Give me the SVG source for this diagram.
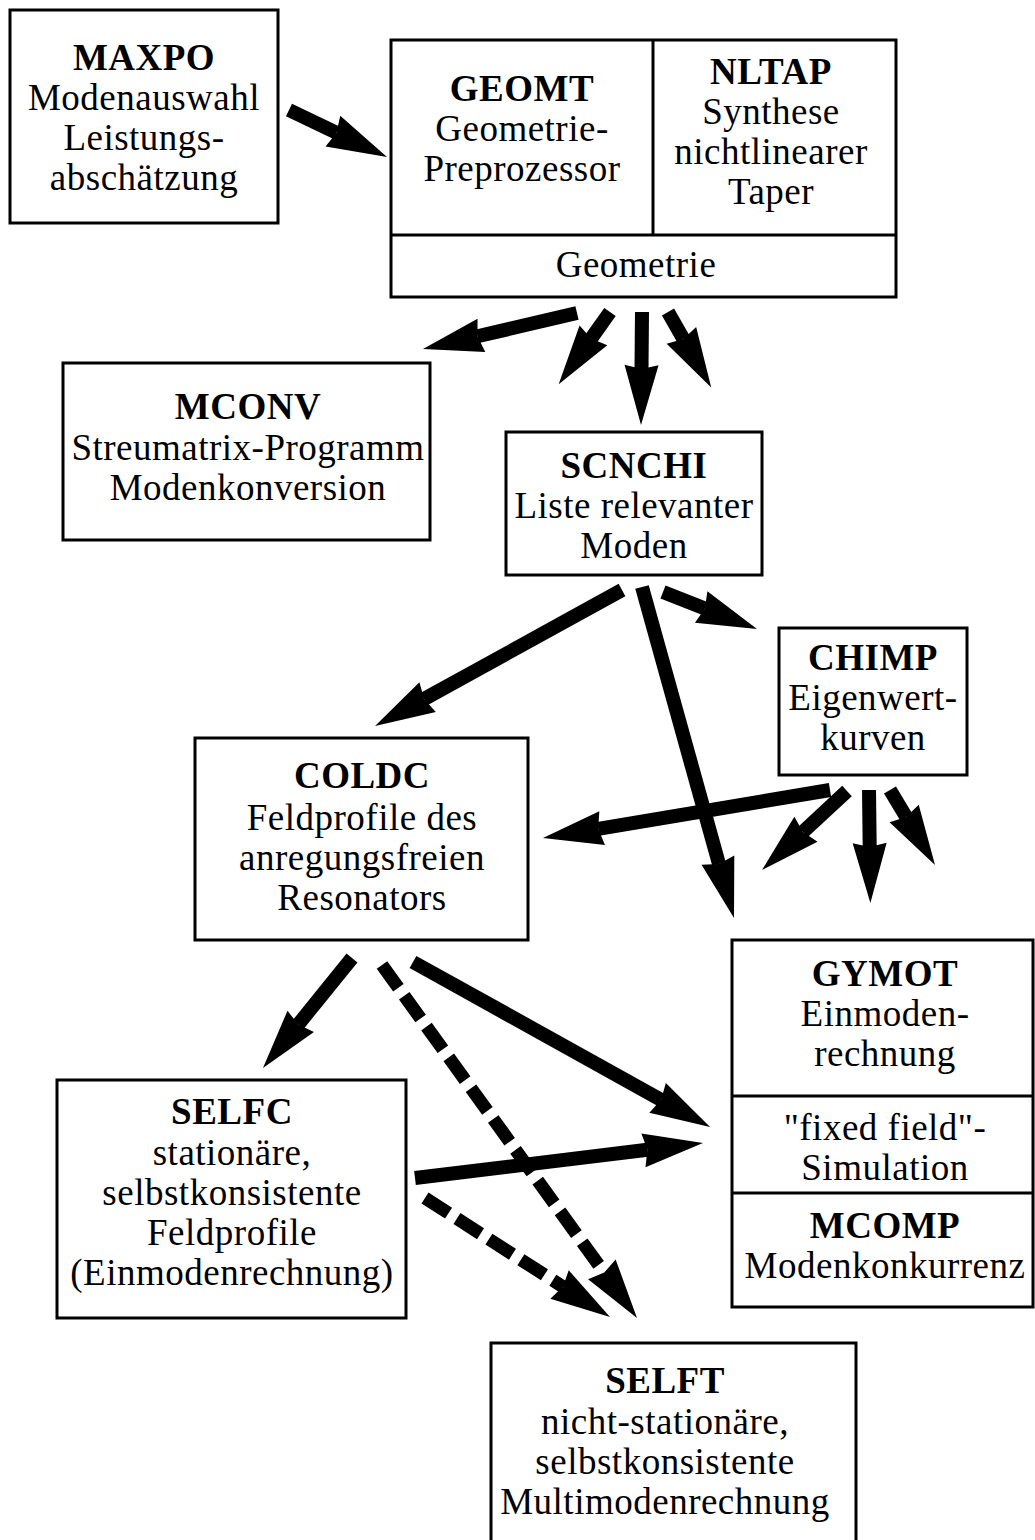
<svg xmlns="http://www.w3.org/2000/svg" width="1035" height="1540" viewBox="0 0 1035 1540">
<style>
.box{fill:#fff;stroke:#000;stroke-width:3}
.div{stroke:#000;stroke-width:3}
text{font-family:"Liberation Serif","Times New Roman",serif;font-size:37px;letter-spacing:0.5px;text-anchor:middle;fill:#000}
.t{font-weight:bold}
.a{stroke:#000;stroke-width:14;fill:none;marker-end:url(#ah)}
.d{stroke:#000;stroke-width:13;fill:none;stroke-dasharray:28 10;marker-end:url(#ah)}
</style>
<defs>
<marker id="ah" markerUnits="userSpaceOnUse" viewBox="-62 -20 64 40" markerWidth="64" markerHeight="40" refX="-56" refY="0" orient="auto">
<path d="M0,0 L-60,-17 L-56,0 L-60,17 Z" fill="#000"/>
</marker>
</defs>
<rect width="1035" height="1540" fill="#fff"/>
<g id="connectors">
<line class="a" x1="289" y1="110" x2="336.5" y2="132.8"/>
<line class="a" x1="577" y1="313" x2="477.5" y2="336.3"/>
<line class="a" x1="610" y1="312" x2="591.1" y2="338.6"/>
<line class="a" x1="642" y1="312" x2="641.5" y2="369"/>
<line class="a" x1="668" y1="312" x2="683.4" y2="338.9"/>
<line class="a" x1="622" y1="590" x2="424.1" y2="699"/>
<line class="a" x1="642" y1="587" x2="719" y2="864"/>
<line class="a" x1="663" y1="592" x2="704.9" y2="608.5"/>
<line class="a" x1="830" y1="790" x2="598.2" y2="828.8"/>
<line class="a" x1="847" y1="791" x2="803" y2="831.9"/>
<line class="a" x1="869" y1="790" x2="869.7" y2="847"/>
<line class="a" x1="890" y1="790" x2="906.2" y2="817"/>
<line class="a" x1="352" y1="958" x2="298.2" y2="1024.5"/>
<line class="a" x1="413" y1="962" x2="661.1" y2="1099.8"/>
<line class="d" x1="382" y1="965" x2="604.2" y2="1272.6"/>
<line class="a" x1="415" y1="1178" x2="647.4" y2="1149.8"/>
<line class="d" x1="425" y1="1198" x2="562.9" y2="1286.7"/>
</g>
<g id="maxpo">
<rect class="box" x="10" y="10" width="268" height="213"/>
<text class="t" x="144" y="70">MAXPO</text>
<text x="144" y="110">Modenauswahl</text>
<text x="144" y="150">Leistungs-</text>
<text x="144" y="190">abschätzung</text>
</g>
<g id="geomt-nltap">
<rect class="box" x="391" y="40" width="505" height="257"/>
<line class="div" x1="653" y1="40" x2="653" y2="235"/>
<line class="div" x1="391" y1="235" x2="896" y2="235"/>
<text class="t" x="522" y="101">GEOMT</text>
<text x="522" y="141">Geometrie-</text>
<text x="522" y="181">Preprozessor</text>
<text class="t" x="771" y="84">NLTAP</text>
<text x="771" y="124">Synthese</text>
<text x="771" y="164">nichtlinearer</text>
<text x="771" y="204">Taper</text>
<text x="636" y="277">Geometrie</text>
</g>
<g id="mconv">
<rect class="box" x="63" y="363" width="367" height="177"/>
<text class="t" x="248" y="419">MCONV</text>
<text x="248" y="460">Streumatrix-Programm</text>
<text x="248" y="500">Modenkonversion</text>
</g>
<g id="scnchi">
<rect class="box" x="506" y="432" width="256" height="143"/>
<text class="t" x="634" y="478">SCNCHI</text>
<text x="634" y="518">Liste relevanter</text>
<text x="634" y="558">Moden</text>
</g>
<g id="chimp">
<rect class="box" x="779" y="628" width="188" height="147"/>
<text class="t" x="873" y="670">CHIMP</text>
<text x="873" y="710">Eigenwert-</text>
<text x="873" y="750">kurven</text>
</g>
<g id="coldc">
<rect class="box" x="195" y="738" width="333" height="202"/>
<text class="t" x="362" y="788">COLDC</text>
<text x="362" y="830">Feldprofile des</text>
<text x="362" y="870">anregungsfreien</text>
<text x="362" y="910">Resonators</text>
</g>
<g id="gymot">
<rect class="box" x="732" y="940" width="301" height="367"/>
<line class="div" x1="732" y1="1096" x2="1033" y2="1096"/>
<line class="div" x1="732" y1="1193" x2="1033" y2="1193"/>
<text class="t" x="885" y="986">GYMOT</text>
<text x="885" y="1026">Einmoden-</text>
<text x="885" y="1066">rechnung</text>
<text x="885" y="1140">"fixed field"-</text>
<text x="885" y="1180">Simulation</text>
<text class="t" x="885" y="1238">MCOMP</text>
<text x="885" y="1278">Modenkonkurrenz</text>
</g>
<g id="selfc">
<rect class="box" x="57" y="1080" width="349" height="238"/>
<text class="t" x="232" y="1124">SELFC</text>
<text x="232" y="1165">stationäre,</text>
<text x="232" y="1205">selbstkonsistente</text>
<text x="232" y="1245">Feldprofile</text>
<text x="232" y="1285">(Einmodenrechnung)</text>
</g>
<g id="selft">
<rect class="box" x="491" y="1343" width="365" height="210"/>
<text class="t" x="665" y="1393">SELFT</text>
<text x="665" y="1434">nicht-stationäre,</text>
<text x="665" y="1474">selbstkonsistente</text>
<text x="665" y="1514">Multimodenrechnung</text>
</g>
</svg>
